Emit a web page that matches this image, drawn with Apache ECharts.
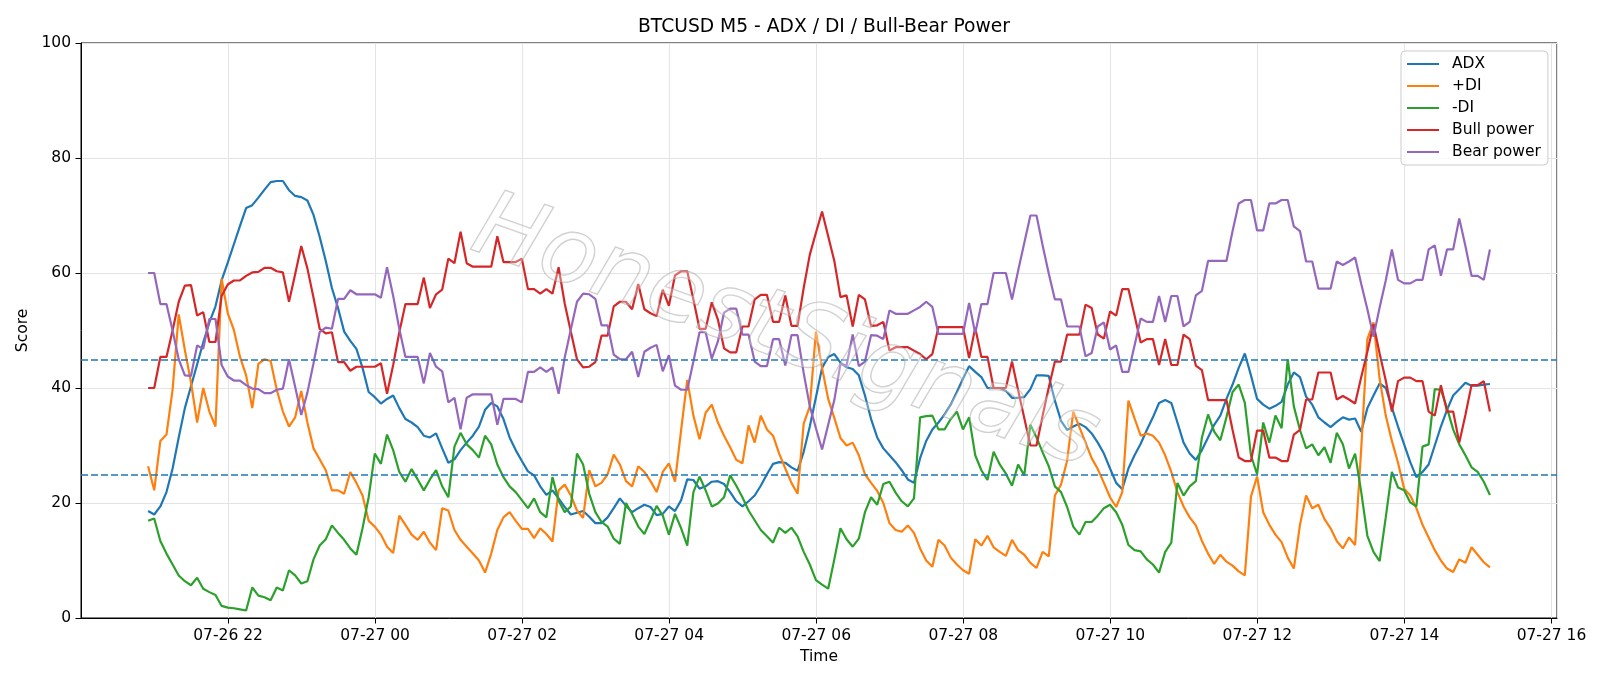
<!DOCTYPE html>
<html>
<head>
<meta charset="utf-8">
<title>BTCUSD M5 - ADX / DI / Bull-Bear Power</title>
<script src="https://cdn.jsdelivr.net/npm/echarts@6/dist/echarts.min.js"></script>
<style>
    html, body { margin: 0; padding: 0; background: #fff; }
    #chart { width: 1600px; height: 686px; }
</style>
</head>
<body>
<div id="chart"></div>
<script>
// 5-minute bars, first bar at 07-26 21:00
const startTime = Date.UTC(2025, 6, 26, 21, 0);
const stepMs = 5 * 60 * 1000;

const seriesNames = ['ADX', '+DI', '-DI', 'Bull power', 'Bear power'];
const seriesColors = ['#1f77b4', '#ff7f0e', '#2ca02c', '#d62728', '#9467bd'];
const thresholds = [45, 25];

const adx = [
    18.6, 18.0, 19.4, 21.9, 26.0, 31.4, 36.5, 40.3, 44.1, 47.9,
    51.4, 54.2, 58.7, 61.8, 65.0, 68.2, 71.3, 71.8, 73.1, 74.5,
    75.8, 76.0, 76.0, 74.4, 73.4, 73.2, 72.6, 70.1, 66.3, 62.1,
    57.4, 53.9, 49.8, 48.2, 46.8, 43.5, 39.3, 38.4, 37.3, 38.1,
    38.7, 36.5, 34.6, 34.0, 33.2, 31.7, 31.4, 32.1, 29.5, 27.0,
    27.6, 29.2, 30.5, 31.7, 33.3, 36.2, 37.4, 36.8, 34.6, 31.4,
    29.2, 27.3, 25.5, 24.8, 22.9, 21.4, 22.2, 20.8, 19.3, 18.0,
    18.3, 18.6, 17.6, 16.5, 16.5, 17.5, 19.1, 20.8, 19.5, 18.4,
    19.1, 19.7, 19.3, 17.9, 18.1, 19.4, 18.6, 20.5, 24.1, 24.0,
    22.5, 22.9, 23.7, 23.8, 23.3, 21.9, 20.3, 19.4, 20.3, 21.3,
    23.0, 25.0, 26.8, 27.1, 27.0, 26.2, 25.6, 28.9, 33.3, 38.4,
    43.5, 45.4, 45.9, 44.4, 43.6, 43.3, 42.2, 38.7, 34.6, 31.4,
    29.5, 28.3, 27.1, 25.7, 24.1, 23.5, 27.8, 30.8, 32.8, 34.0,
    35.4, 37.1, 39.3, 41.6, 43.8, 42.8, 41.9, 40.0, 40.0, 40.0,
    39.5, 38.3, 38.3, 38.4, 39.8, 42.2, 42.2, 42.1, 37.8, 34.3,
    32.7, 33.3, 33.8, 33.2, 32.1, 30.5, 28.6, 26.0, 23.5, 22.4,
    26.0, 28.3, 30.3, 32.7, 34.9, 37.4, 37.9, 37.4, 34.0, 30.5,
    28.6, 27.5, 29.2, 31.4, 33.6, 35.2, 38.1, 40.6, 43.5, 46.0,
    42.2, 38.1, 37.1, 36.4, 36.9, 37.6, 40.6, 42.7, 41.9, 38.5,
    37.1, 34.9, 34.0, 33.2, 34.1, 34.9, 34.5, 34.7, 32.4, 36.5,
    38.7, 40.8, 40.0, 36.6, 33.3, 30.2, 27.1, 24.5, 25.4, 26.7,
    30.0, 33.3, 36.2, 38.7, 39.8, 40.9, 40.4, 40.4, 40.6, 40.7
];

const plusDi = [
    26.4, 22.2, 30.8, 31.9, 39.7, 52.8, 46.6, 41.0, 34.0, 40.0,
    35.9, 33.3, 59.0, 53.0, 50.1, 45.4, 42.2, 36.5, 44.2, 45.0,
    44.7, 39.7, 35.9, 33.3, 34.9, 39.5, 34.0, 29.5, 27.6, 25.7,
    22.2, 22.2, 21.6, 25.4, 23.5, 21.3, 16.9, 15.9, 14.5, 12.4,
    11.3, 17.8, 16.2, 14.5, 13.6, 15.0, 13.1, 11.8, 19.1, 18.7,
    15.3, 13.6, 12.4, 11.2, 10.0, 7.9, 11.2, 15.3, 17.5, 18.4,
    16.9, 15.5, 15.5, 13.9, 15.6, 14.6, 13.3, 22.2, 23.2, 21.3,
    18.7, 17.4, 25.7, 22.9, 23.5, 25.0, 28.4, 26.7, 23.8, 22.9,
    26.4, 25.4, 23.8, 21.9, 25.4, 26.9, 23.7, 32.7, 41.4, 35.2,
    31.1, 35.7, 37.1, 34.0, 31.7, 29.7, 27.5, 26.9, 33.5, 30.5,
    35.2, 32.8, 31.7, 28.6, 26.0, 23.5, 21.6, 33.8, 36.8, 49.8,
    43.5, 38.1, 34.8, 31.3, 30.0, 30.5, 28.3, 25.0, 23.5, 22.1,
    20.0, 16.5, 15.3, 15.0, 16.1, 14.8, 12.1, 10.0, 8.9, 13.6,
    12.6, 10.5, 9.3, 8.3, 7.7, 13.7, 12.6, 14.3, 12.3, 11.5,
    10.8, 13.6, 11.8, 11.0, 9.6, 8.7, 11.5, 10.7, 21.3, 23.2,
    27.4, 35.9, 33.2, 30.5, 27.8, 25.9, 23.5, 21.0, 19.3, 21.9,
    37.8, 34.7, 31.7, 32.1, 31.7, 30.5, 28.3, 25.4, 21.9, 19.4,
    17.5, 16.1, 13.4, 11.2, 9.4, 11.0, 9.8, 9.1, 8.1, 7.4,
    21.1, 24.6, 18.4, 16.2, 14.5, 13.2, 10.5, 8.6, 16.2, 21.3,
    19.1, 19.7, 17.2, 15.6, 13.4, 12.1, 14.0, 12.7, 29.5, 48.5,
    51.4, 41.6, 35.2, 30.8, 27.0, 22.5, 21.3, 19.1, 16.2, 14.0,
    11.8, 10.0, 8.6, 8.0, 10.2, 9.6, 12.3, 11.0, 9.7, 8.8
];

const minusDi = [
    16.9, 17.3, 13.4, 11.2, 9.3, 7.4, 6.4, 5.7, 7.0, 5.1,
    4.5, 4.0, 2.1, 1.8, 1.7, 1.5, 1.3, 5.3, 3.9, 3.6,
    3.1, 5.3, 4.8, 8.3, 7.4, 6.0, 6.4, 10.2, 12.6, 13.7,
    16.1, 14.8, 13.6, 12.1, 11.0, 15.6, 21.0, 28.6, 26.8, 31.9,
    29.2, 25.4, 23.7, 25.9, 24.1, 22.2, 24.1, 25.7, 22.9, 21.0,
    29.8, 32.2, 30.2, 29.2, 27.9, 31.7, 30.2, 26.7, 24.5, 22.9,
    21.9, 20.5, 19.1, 20.8, 18.4, 17.5, 24.5, 20.4, 18.4, 19.4,
    28.6, 26.7, 21.6, 18.4, 16.7, 15.9, 13.8, 12.9, 20.0, 18.1,
    15.9, 14.6, 17.0, 19.5, 17.8, 14.5, 18.1, 15.6, 12.6, 21.9,
    24.6, 22.2, 19.4, 19.9, 21.0, 24.8, 23.0, 21.0, 18.7, 17.0,
    15.3, 14.2, 13.1, 15.7, 14.8, 15.7, 14.2, 11.5, 9.3, 6.6,
    5.8, 5.1, 10.2, 15.6, 13.7, 12.4, 13.8, 18.4, 21.0, 19.7,
    23.3, 23.7, 21.8, 20.3, 19.4, 20.8, 34.9, 35.1, 35.2, 32.8,
    32.8, 34.6, 35.9, 32.8, 34.9, 28.3, 25.7, 24.0, 28.9, 26.7,
    25.1, 23.0, 26.7, 24.8, 33.6, 31.4, 28.8, 26.4, 22.9, 21.9,
    19.3, 15.9, 14.5, 16.7, 16.7, 17.8, 19.1, 19.7, 18.4, 16.2,
    12.7, 11.8, 11.6, 10.2, 9.3, 7.9, 11.5, 13.1, 23.5, 21.3,
    22.9, 23.8, 31.4, 35.4, 32.4, 30.9, 34.9, 39.3, 40.6, 37.4,
    28.3, 25.0, 34.0, 30.5, 35.2, 33.0, 45.0, 36.8, 32.7, 29.5,
    30.2, 28.3, 29.7, 27.0, 32.2, 30.2, 26.0, 28.6, 21.9, 14.3,
    11.5, 9.9, 17.5, 25.4, 22.7, 22.2, 20.1, 19.4, 29.8, 30.2,
    39.8, 39.7, 36.5, 32.8, 30.2, 28.3, 26.2, 25.4, 23.7, 21.4
];

const bullPower = [
    40.0, 40.0, 45.4, 45.4, 50.0, 55.0, 57.8, 57.9, 52.6, 53.2,
    48.0, 48.0, 56.0, 58.0, 58.7, 58.7, 59.5, 60.1, 60.2, 60.9,
    60.9, 60.3, 60.1, 55.0, 59.8, 64.7, 60.8, 55.7, 50.3, 49.5,
    49.7, 44.5, 44.5, 43.0, 43.7, 43.7, 43.7, 43.7, 44.3, 39.0,
    44.0, 49.7, 54.6, 54.6, 54.6, 59.2, 53.9, 56.3, 57.1, 62.5,
    61.7, 67.2, 61.7, 61.1, 61.1, 61.1, 61.1, 66.4, 61.9, 61.9,
    61.9, 62.5, 57.2, 57.2, 56.4, 57.2, 56.4, 61.0, 54.7, 49.8,
    45.0, 43.6, 43.7, 44.5, 49.1, 49.1, 54.2, 55.0, 55.0, 53.7,
    58.1, 53.7, 53.0, 52.5, 57.1, 54.3, 59.6, 60.3, 60.3, 55.4,
    50.3, 50.3, 54.9, 51.9, 46.9, 46.2, 46.2, 50.7, 50.7, 55.4,
    56.2, 56.2, 51.5, 51.5, 56.1, 50.8, 50.8, 57.4, 63.2, 67.0,
    70.7, 66.4, 62.1, 55.8, 56.1, 50.7, 56.2, 55.4, 50.8, 50.9,
    51.5, 46.5, 47.1, 47.1, 47.1, 46.5, 45.9, 45.0, 45.9, 50.6,
    50.6, 50.6, 50.6, 50.6, 45.2, 50.5, 45.4, 45.4, 40.0, 40.0,
    40.0, 44.6, 39.6, 34.8, 30.0, 30.0, 35.2, 40.1, 44.6, 44.6,
    49.3, 49.3, 49.3, 54.5, 53.9, 49.3, 48.6, 53.3, 52.6, 57.2,
    57.2, 52.6, 47.9, 48.5, 48.5, 44.0, 48.5, 44.0, 44.0, 49.3,
    48.5, 43.9, 43.1, 37.9, 37.9, 37.9, 37.9, 32.7, 27.9, 27.3,
    27.3, 32.6, 32.6, 27.9, 27.9, 27.3, 27.3, 31.9, 32.7, 38.0,
    38.0, 42.7, 42.7, 42.7, 38.0, 38.6, 38.0, 37.3, 41.9, 46.3,
    51.1, 46.0, 41.3, 35.9, 41.2, 41.8, 41.8, 41.2, 41.2, 35.9,
    35.2, 40.5, 35.9, 35.9, 30.5, 35.3, 40.5, 40.5, 41.2, 35.9
];

const bearPower = [
    60.0, 60.0, 54.6, 54.6, 50.0, 45.0, 42.2, 42.1, 47.4, 46.8,
    52.0, 52.0, 44.0, 42.0, 41.3, 41.3, 40.5, 39.9, 39.8, 39.1,
    39.1, 39.7, 39.9, 45.0, 40.2, 35.3, 39.2, 44.3, 49.7, 50.5,
    50.3, 55.5, 55.5, 57.0, 56.3, 56.3, 56.3, 56.3, 55.7, 61.0,
    56.0, 50.3, 45.4, 45.4, 45.4, 40.8, 46.1, 43.7, 42.9, 37.5,
    38.3, 32.8, 38.3, 38.9, 38.9, 38.9, 38.9, 33.6, 38.1, 38.1,
    38.1, 37.5, 42.8, 42.8, 43.6, 42.8, 43.6, 39.0, 45.3, 50.2,
    55.0, 56.4, 56.3, 55.5, 50.9, 50.9, 45.8, 45.0, 45.0, 46.3,
    41.9, 46.3, 47.0, 47.5, 42.9, 45.7, 40.4, 39.7, 39.7, 44.6,
    49.7, 49.7, 45.1, 48.1, 53.1, 53.8, 53.8, 49.3, 49.3, 44.6,
    43.8, 43.8, 48.5, 48.5, 43.9, 49.2, 49.2, 42.6, 36.8, 33.0,
    29.3, 33.6, 37.9, 44.2, 43.9, 49.3, 43.8, 44.6, 49.2, 49.1,
    48.5, 53.5, 52.9, 52.9, 52.9, 53.5, 54.1, 55.0, 54.1, 49.4,
    49.4, 49.4, 49.4, 49.4, 54.8, 49.5, 54.6, 54.6, 60.0, 60.0,
    60.0, 55.4, 60.4, 65.2, 70.0, 70.0, 64.8, 59.9, 55.4, 55.4,
    50.7, 50.7, 50.7, 45.5, 46.1, 50.7, 51.4, 46.7, 47.4, 42.8,
    42.8, 47.4, 52.1, 51.5, 51.5, 56.0, 51.5, 56.0, 56.0, 50.7,
    51.5, 56.1, 56.9, 62.1, 62.1, 62.1, 62.1, 67.3, 72.1, 72.7,
    72.7, 67.4, 67.4, 72.1, 72.1, 72.7, 72.7, 68.1, 67.3, 62.0,
    62.0, 57.3, 57.3, 57.3, 62.0, 61.4, 62.0, 62.7, 58.1, 53.7,
    48.9, 54.0, 58.7, 64.1, 58.8, 58.2, 58.2, 58.8, 58.8, 64.1,
    64.8, 59.5, 64.1, 64.1, 69.5, 64.7, 59.5, 59.5, 58.8, 64.1
];

const seriesValues = [adx, plusDi, minusDi, bullPower, bearPower];

const times = adx.map((_, i) => startTime + i * stepMs);

// same 5% side margin matplotlib puts around the data
const span = times[times.length - 1] - times[0];
const xMin = times[0] - span * 0.05;
const xMax = times[times.length - 1] + span * 0.05;

const font = 'DejaVu Sans';
const labelSize = 15.5;

function pad2(n) {
    return String(n).padStart(2, '0');
}

// "07-26 22" style tick labels
function formatTick(v) {
    const d = new Date(v);
    return pad2(d.getUTCMonth() + 1) + '-' + pad2(d.getUTCDate()) + ' ' + pad2(d.getUTCHours());
}

function buildSeries(name, idx) {
    const item = {
        name: name,
        type: 'line',
        data: seriesValues[idx].map((v, i) => [times[i], v]),
        symbol: 'none',
        showSymbol: false,
        lineStyle: { width: 2.2, color: seriesColors[idx] },
        itemStyle: { color: seriesColors[idx] },
        emphasis: { disabled: true },
        z: 3
    };
    if (idx === 0) {
        // dashed threshold lines
        item.markLine = {
            silent: true,
            symbol: ['none', 'none'],
            label: { show: false },
            lineStyle: { color: '#1f77b4', type: [7, 3], width: 1.6 },
            data: thresholds.map(t => ({ yAxis: t }))
        };
    }
    return item;
}

const chart = echarts.init(document.getElementById('chart'));

chart.setOption({
    animation: false,
    backgroundColor: '#fff',
    textStyle: { fontFamily: font },
    title: {
        text: 'BTCUSD M5 - ADX / DI / Bull-Bear Power',
        left: 819,
        top: 13,
        textAlign: 'center',
        textStyle: { fontSize: 18.7, fontWeight: 'normal', color: '#000', fontFamily: font }
    },
    grid: {
        left: 81, right: 43, top: 43, bottom: 68,
        show: true, borderColor: '#000', borderWidth: 1
    },
    legend: {
        orient: 'vertical',
        left: 1401,
        top: 51,
        // 32px line sample plus blank room so the label sits ~12px away
        icon: 'path://M0,0H32V2H0Z M39.9,0H40V0.01H39.9Z',
        itemWidth: 40,
        itemHeight: 2,
        itemGap: 6,
        padding: [5, 7, 5, 6],
        backgroundColor: 'rgba(255,255,255,0.8)',
        borderColor: '#cccccc',
        borderWidth: 1,
        borderRadius: 4,
        textStyle: { fontSize: labelSize, color: '#000', lineHeight: 16, fontFamily: font },
        data: seriesNames
    },
    xAxis: {
        type: 'value',
        min: xMin,
        max: xMax,
        interval: 2 * 3600 * 1000,
        name: 'Time',
        nameLocation: 'middle',
        nameGap: 31,
        nameTextStyle: { fontSize: labelSize, color: '#000', fontFamily: font },
        axisLine: { show: true, lineStyle: { color: '#000', width: 1 } },
        axisTick: { show: true, length: 5.5, lineStyle: { color: '#000' } },
        axisLabel: {
            formatter: formatTick,
            fontSize: labelSize,
            color: '#000',
            margin: 10,
            showMinLabel: false,
            showMaxLabel: false,
            fontFamily: font
        },
        splitLine: { show: true, lineStyle: { color: '#e4e4e4', width: 1 } }
    },
    yAxis: {
        type: 'value',
        min: 0,
        max: 100,
        interval: 20,
        name: 'Score',
        nameLocation: 'middle',
        nameGap: 45,
        nameTextStyle: { fontSize: labelSize, color: '#000', fontFamily: font },
        axisLine: { show: true, lineStyle: { color: '#000', width: 1 } },
        axisTick: { show: true, length: 5.5, lineStyle: { color: '#000' } },
        axisLabel: { fontSize: labelSize, color: '#000', margin: 10, fontFamily: font },
        splitLine: { show: true, lineStyle: { color: '#e4e4e4', width: 1 } }
    },
    graphic: [{
        // faint watermark across the middle of the plot
        type: 'text',
        x: 785,
        y: 335,
        rotation: -0.34,
        z: 100,
        silent: true,
        style: {
            text: 'HonestSignals',
            fontSize: 92,
            fontStyle: 'italic',
            fontWeight: 200,
            fontFamily: font,
            fill: 'rgba(255,255,255,0.3)',
            stroke: 'rgba(150,150,150,0.5)',
            lineWidth: 1.4,
            align: 'center',
            verticalAlign: 'middle'
        }
    }],
    series: seriesNames.map(buildSeries)
});
</script>
</body>
</html>
